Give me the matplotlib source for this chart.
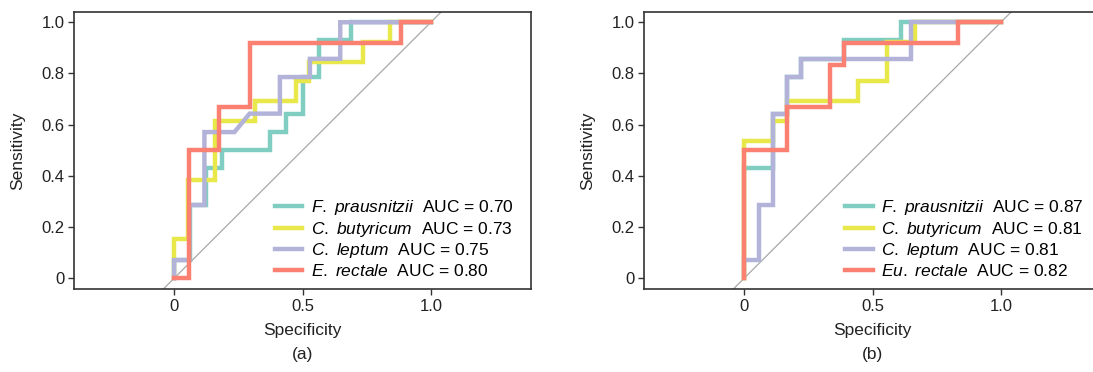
import matplotlib
matplotlib.use("Agg")
import matplotlib.pyplot as plt

plt.rcParams["font.family"] = ["Liberation Sans", "DejaVu Sans"]
plt.rcParams["mathtext.fontset"] = "custom"
plt.rcParams["mathtext.rm"] = "Liberation Sans"
plt.rcParams["mathtext.it"] = "Liberation Sans:italic"

# 読み取った ROC 曲線の角の点 (横軸 = 1 - 特異度, 縦軸 = 感度)
# (a)
a_fp_fpr = [0, 0, 0.0625, 0.0625, 0.125, 0.125, 0.1875, 0.1875, 0.375, 0.375,
            0.4375, 0.4375, 0.5, 0.5, 0.5625, 0.5625, 0.6875, 0.6875, 1.0]
a_fp_tpr = [0, 0.071, 0.071, 0.286, 0.286, 0.429, 0.429, 0.5, 0.5, 0.571,
            0.571, 0.643, 0.643, 0.786, 0.786, 0.929, 0.929, 1.0, 1.0]
a_cb_fpr = [0, 0, 0.053, 0.053, 0.158, 0.158, 0.316, 0.316, 0.474, 0.474,
            0.526, 0.526, 0.737, 0.737, 0.842, 0.842, 1.0]
a_cb_tpr = [0, 0.154, 0.154, 0.385, 0.385, 0.615, 0.615, 0.692, 0.692, 0.769,
            0.769, 0.846, 0.846, 0.923, 0.923, 1.0, 1.0]
a_cl_fpr = [0, 0, 0.059, 0.059, 0.118, 0.118, 0.235, 0.294, 0.412, 0.412,
            0.529, 0.529, 0.647, 0.647, 1.0]
a_cl_tpr = [0, 0.071, 0.071, 0.286, 0.286, 0.571, 0.571, 0.643, 0.643, 0.786,
            0.786, 0.857, 0.857, 1.0, 1.0]
a_er_fpr = [0, 0.059, 0.059, 0.176, 0.176, 0.294, 0.294, 0.882, 0.882, 1.0]
a_er_tpr = [0, 0, 0.5, 0.5, 0.667, 0.667, 0.917, 0.917, 1.0, 1.0]

# (b)
b_fp_fpr = [0, 0, 0.111, 0.111, 0.167, 0.167, 0.222, 0.222, 0.389, 0.389,
            0.611, 0.611, 1.0]
b_fp_tpr = [0, 0.429, 0.429, 0.643, 0.643, 0.786, 0.786, 0.857, 0.857, 0.929,
            0.929, 1.0, 1.0]
b_cb_fpr = [0, 0, 0.111, 0.111, 0.167, 0.167, 0.444, 0.444, 0.556, 0.556,
            0.667, 0.667, 1.0]
b_cb_tpr = [0, 0.538, 0.538, 0.615, 0.615, 0.692, 0.692, 0.769, 0.769, 0.923,
            0.923, 1.0, 1.0]
b_cl_fpr = [0, 0, 0.056, 0.056, 0.111, 0.111, 0.167, 0.167, 0.222, 0.222,
            0.65, 0.65, 1.0]
b_cl_tpr = [0, 0.071, 0.071, 0.286, 0.286, 0.643, 0.643, 0.786, 0.786, 0.857,
            0.857, 1.0, 1.0]
b_er_fpr = [0, 0, 0.167, 0.167, 0.333, 0.333, 0.389, 0.389, 0.833, 0.833, 1.0]
b_er_tpr = [0, 0.5, 0.5, 0.667, 0.667, 0.833, 0.833, 0.917, 0.917, 1.0, 1.0]

a_names = [r"$\mathit{F.\ prausnitzii}$", r"$\mathit{C.\ butyricum}$",
           r"$\mathit{C.\ leptum}$", r"$\mathit{E.\ rectale}$"]
b_names = [r"$\mathit{F.\ prausnitzii}$", r"$\mathit{C.\ butyricum}$",
           r"$\mathit{C.\ leptum}$", r"$\mathit{Eu.\ rectale}$"]
a_auc = [0.70, 0.73, 0.75, 0.80]
b_auc = [0.87, 0.81, 0.81, 0.82]

colors = ["#80cdc1", "#e8e84a", "#b3b3d9", "#fa8072"]

W, H = 1093, 372
fig = plt.figure(figsize=(W / 100, H / 100), dpi=100)


def px_axes(left, top, right, bottom):
    return fig.add_axes([left / W, 1 - bottom / H, (right - left) / W, (bottom - top) / H])


def draw_panel(ax, curves, names, aucs, caption):
    ax.axline((0, 0), (1, 1), color="#a8a8a8", lw=0.9, zorder=1)
    for (fpr, tpr), name, auc, c in zip(curves, names, aucs, colors):
        ax.plot(fpr, tpr, color=c, lw=3.2, label=f"{name}  AUC = {auc:.2f}",
                solid_joinstyle="miter", zorder=2)
    ax.set_xlim(-0.39, 1.39)
    ax.set_ylim(-0.042, 1.04)
    ax.set_xticks([0, 0.5, 1.0])
    ax.set_xticklabels(["0", "0.5", "1.0"])
    ax.set_yticks([0, 0.2, 0.4, 0.6, 0.8, 1.0])
    ax.set_yticklabels(["0", "0.2", "0.4", "0.6", "0.8", "1.0"])
    ax.tick_params(direction="out", length=4, width=1, colors="#333333",
                   labelsize=12, labelcolor="#222222", pad=3)
    for s in ax.spines.values():
        s.set_color("#333333")
        s.set_linewidth(1.2)
    ax.set_xlabel("Specificity", fontsize=12.5, color="#222222", va="center")
    ax.set_ylabel("Sensitivity", fontsize=12.5, color="#222222", va="center")
    ax.xaxis.set_label_coords(0.5, -0.151)
    ax.yaxis.set_label_coords(-0.124, 0.5)
    ax.legend(loc="lower right", bbox_to_anchor=(0.985, 0.0), frameon=False,
              fontsize=12.5, handlelength=1.6, handletextpad=0.5,
              labelspacing=0.14, borderaxespad=0.2)
    ax.text(0.5, -0.238, caption, transform=ax.transAxes, ha="center",
            va="center", fontsize=12.5, color="#222222")


ax_a = px_axes(74, 12, 531, 289)
draw_panel(ax_a,
           [(a_fp_fpr, a_fp_tpr), (a_cb_fpr, a_cb_tpr),
            (a_cl_fpr, a_cl_tpr), (a_er_fpr, a_er_tpr)],
           a_names, a_auc, "(a)")

ax_b = px_axes(644, 12, 1101, 289)
draw_panel(ax_b,
           [(b_fp_fpr, b_fp_tpr), (b_cb_fpr, b_cb_tpr),
            (b_cl_fpr, b_cl_tpr), (b_er_fpr, b_er_tpr)],
           b_names, b_auc, "(b)")

fig.savefig("out.png", dpi=100)
